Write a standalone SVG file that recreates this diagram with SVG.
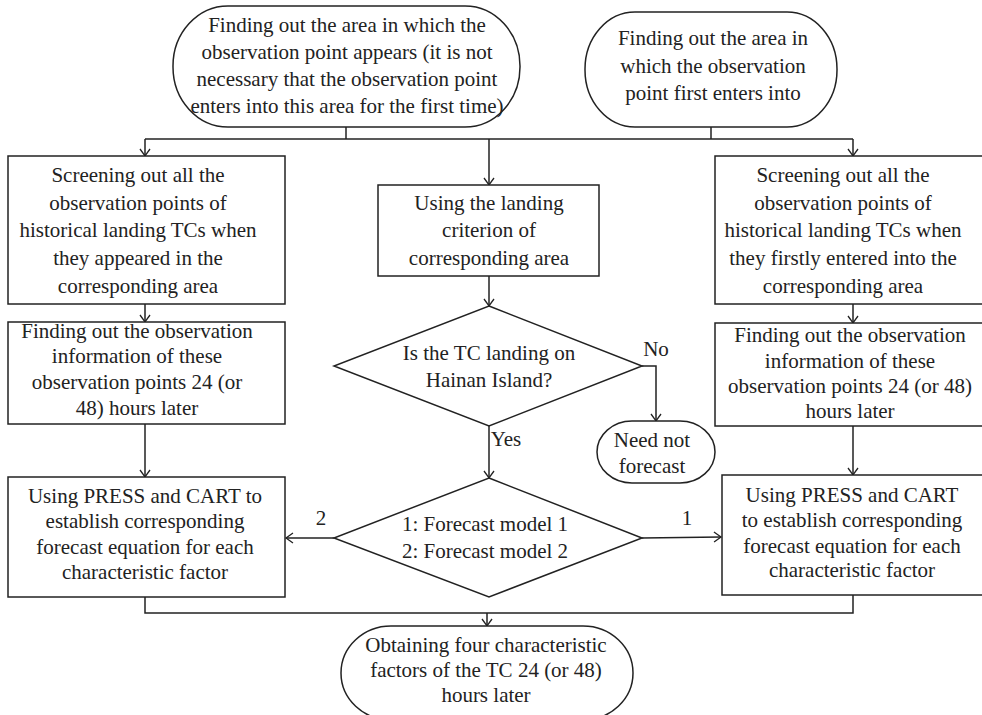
<svg xmlns="http://www.w3.org/2000/svg" width="982" height="715" viewBox="0 0 982 715">
<defs>
<marker id="arr" viewBox="0 0 12 12" refX="9" refY="6" markerWidth="12" markerHeight="12" markerUnits="userSpaceOnUse" orient="auto">
<polyline points="2,1 9,6 2,11" fill="none" stroke="#222" stroke-width="1.3"/>
</marker>
</defs>
<style>
text{font-family:"Liberation Serif","Times New Roman",serif;font-size:21px;fill:#222;text-anchor:middle}
.s{fill:#fff;stroke:#222;stroke-width:1.5}
.c{fill:none;stroke:#222;stroke-width:1.5}
.a{marker-end:url(#arr)}
</style>
<rect width="982" height="715" fill="#fff"/>
<g id="connectors">
<polyline class="c" points="346,127 346,139"/>
<polyline class="c" points="711,127 711,139"/>
<polyline class="c" points="145,139 853,139"/>
<polyline class="c a" points="145,139 145,156"/>
<polyline class="c a" points="489,139 489,185"/>
<polyline class="c a" points="853,139 853,156"/>
<polyline class="c a" points="145,304 145,322"/>
<polyline class="c a" points="853,304 853,323"/>
<polyline class="c a" points="489,276 489,306"/>
<polyline class="c a" points="145,424 145,477"/>
<polyline class="c a" points="853,426 853,475"/>
<polyline class="c a" points="642,366 656,366 656,421"/>
<polyline class="c a" points="489,426 489,478"/>
<polyline class="c a" points="334,538 286,538"/>
<polyline class="c a" points="642,538 721,537"/>
<polyline class="c" points="145,597 145,613 853,613 853,595"/>
<polyline class="c a" points="487,613 487,626"/>
<text x="656" y="356">No</text>
<text x="506" y="446">Yes</text>
<text x="321" y="525">2</text>
<text x="687" y="525">1</text>
</g>
<g id="start-appear">
<rect class="s" x="173" y="6" width="347" height="121" rx="55" ry="60"/>
<text x="347" y="32">Finding out the area in which the</text>
<text x="347" y="59">observation point appears (it is not</text>
<text x="347" y="86">necessary that the observation point</text>
<text x="347" y="113">enters into this area for the first time)</text>
</g>
<g id="start-first">
<rect class="s" x="585" y="12" width="252" height="115" rx="50" ry="57"/>
<text x="713" y="45">Finding out the area in</text>
<text x="713" y="73">which the observation</text>
<text x="713" y="100">point first enters into</text>
</g>
<g id="screen-left">
<rect class="s" x="8" y="156" width="277" height="148"/>
<text x="138" y="182">Screening out all the</text>
<text x="138" y="210">observation points of</text>
<text x="138" y="237">historical landing TCs when</text>
<text x="138" y="265">they appeared in the</text>
<text x="138" y="293">corresponding area</text>
</g>
<g id="info-left">
<rect class="s" x="8" y="322" width="277" height="102"/>
<text x="137" y="338">Finding out the observation</text>
<text x="137" y="363">information of these</text>
<text x="137" y="389">observation points 24 (or</text>
<text x="137" y="415">48) hours later</text>
</g>
<g id="press-left">
<rect class="s" x="8" y="477" width="277" height="120"/>
<text x="145" y="503">Using PRESS and CART to</text>
<text x="145" y="528">establish corresponding</text>
<text x="145" y="554">forecast equation for each</text>
<text x="145" y="579">characteristic factor</text>
</g>
<g id="criterion">
<rect class="s" x="378" y="185" width="221" height="91"/>
<text x="489" y="210">Using the landing</text>
<text x="489" y="237">criterion of</text>
<text x="489" y="265">corresponding area</text>
</g>
<g id="decision-landing">
<polygon class="s" points="489,306 642,366 489,426 334,366"/>
<text x="489" y="360">Is the TC landing on</text>
<text x="489" y="387">Hainan Island?</text>
</g>
<g id="need-not">
<rect class="s" x="597" y="421" width="118" height="62" rx="35" ry="31"/>
<text x="652" y="447">Need not</text>
<text x="652" y="473">forecast</text>
</g>
<g id="decision-model">
<polygon class="s" points="489,478 642,538 489,597 334,538"/>
<text x="485" y="531">1: Forecast model 1</text>
<text x="485" y="558">2: Forecast model 2</text>
</g>
<g id="screen-right">
<rect class="s" x="715" y="156" width="272" height="148"/>
<text x="843" y="182">Screening out all the</text>
<text x="843" y="210">observation points of</text>
<text x="843" y="237">historical landing TCs when</text>
<text x="843" y="265">they firstly entered into the</text>
<text x="843" y="293">corresponding area</text>
</g>
<g id="info-right">
<rect class="s" x="715" y="323" width="272" height="103"/>
<text x="850" y="342">Finding out the observation</text>
<text x="850" y="368">information of these</text>
<text x="850" y="393">observation points 24 (or 48)</text>
<text x="850" y="418">hours later</text>
</g>
<g id="press-right">
<rect class="s" x="722" y="475" width="265" height="120"/>
<text x="852" y="502">Using PRESS and CART</text>
<text x="852" y="527">to establish corresponding</text>
<text x="852" y="553">forecast equation for each</text>
<text x="852" y="577">characteristic factor</text>
</g>
<g id="result">
<rect class="s" x="341" y="626" width="292" height="94" rx="50" ry="47"/>
<text x="486" y="652">Obtaining four characteristic</text>
<text x="486" y="677">factors of the TC 24 (or 48)</text>
<text x="486" y="702">hours later</text>
</g>
</svg>
